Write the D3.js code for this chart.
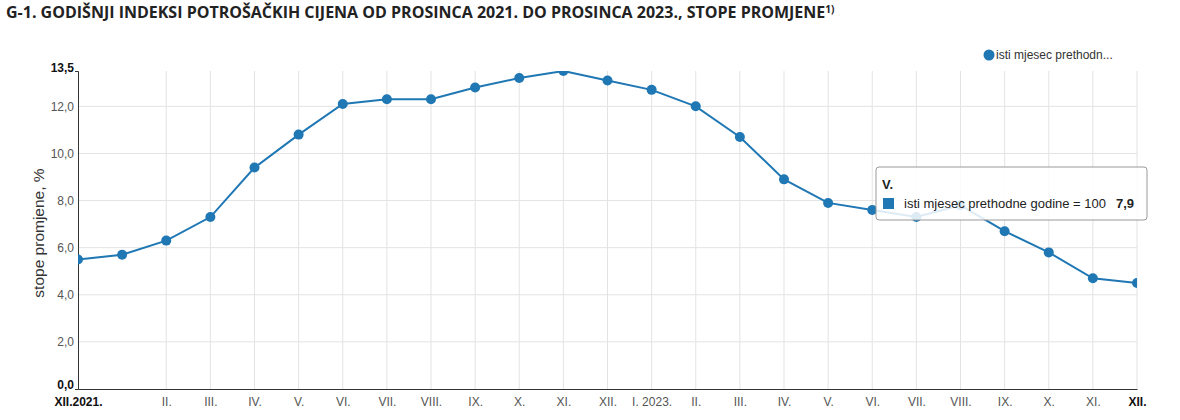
<!DOCTYPE html>
<html>
<head>
<meta charset="utf-8">
<script src="https://cdn.jsdelivr.net/npm/d3@7"></script>
<style>
  html, body { margin: 0; padding: 0; background: #fff; }
  svg { display: block; }
</style>
</head>
<body>
<svg id="chart" width="1180" height="420"></svg>
<script>
const categories = ["XII.2021.", "I. 2022.", "II.", "III.", "IV.", "V.", "VI.", "VII.", "VIII.", "IX.", "X.", "XI.", "XII.",
  "I. 2023.", "II.", "III.", "IV.", "V.", "VI.", "VII.", "VIII.", "IX.", "X.", "XI.", "XII."];
const values = [5.5, 5.7, 6.3, 7.3, 9.4, 10.8, 12.1, 12.3, 12.3, 12.8, 13.2, 13.5, 13.1,
  12.7, 12.0, 10.7, 8.9, 7.9, 7.6, 7.3, 7.8, 6.7, 5.8, 4.7, 4.5];
const yTicks = [0, 2, 4, 6, 8, 10, 12, 13.5];
const seriesName = "isti mjesec prethodne godine = 100";
const legendLabel = "isti mjesec prethodn...";
const titleText = "G-1. GODIŠNJI INDEKSI POTROŠAČKIH CIJENA OD PROSINCA 2021. DO PROSINCA 2023., STOPE PROMJENE";
const yTitle = "stope promjene, %";
const tooltipIndex = 17;

(function () {
const color = "#1f77b4";
const svg = d3.select("#chart");
const mL = 78, mR = 1137, mT = 71, mB = 389;

const x = d3.scalePoint().domain(d3.range(categories.length)).range([mL, mR]);
const y = d3.scaleLinear().domain([0, 13.5]).range([mB, mT]);
const fmt = v => d3.format(".1f")(v).replace(".", ",");

// title
const title = svg.append("text").attr("x", 6).attr("y", 18)
  .style("font-family", "'Open Sans', sans-serif").style("font-weight", "700")
  .style("font-size", "16px").attr("fill", "#222").text(titleText);
title.append("tspan").attr("dy", -5).style("font-size", "10px").text("1)");

// grid
const grid = svg.append("g");
grid.selectAll("line.h").data(yTicks.filter(t => t > 0 && t < 13.5)).join("line")
  .attr("class", "h")
  .attr("x1", mL).attr("x2", mR).attr("y1", d => y(d)).attr("y2", d => y(d))
  .attr("stroke", "#e3e3e3").attr("stroke-width", 1);
grid.selectAll("line.v").data(d3.range(categories.length).filter(i => i > 1)).join("line")
  .attr("class", "v")
  .attr("x1", d => x(d)).attr("x2", d => x(d)).attr("y1", mT).attr("y2", mB)
  .attr("stroke", "#e3e3e3").attr("stroke-width", 1);

// y axis
const yAxis = d3.axisLeft(y).tickValues(yTicks).tickFormat(fmt).tickSize(3);
const gy = svg.append("g").attr("transform", `translate(${mL},0)`).call(yAxis);
gy.select(".domain").attr("stroke", "#333");
gy.selectAll(".tick line").attr("stroke", "#333").attr("stroke-width", d => (d === 0 || d === 13.5) ? 1 : 0);
gy.selectAll(".tick text").attr("x", -4)
  .style("font-family", "Arial, 'Liberation Sans', sans-serif").style("font-size", "12px")
  .attr("fill", d => (d === 0 || d === 13.5) ? "#111" : "#555")
  .style("font-weight", d => (d === 0 || d === 13.5) ? "700" : "400")
  .attr("dy", d => d === 0 ? "-0.05em" : d === 13.5 ? "0.05em" : "0.32em");

// x axis
const xAxis = d3.axisBottom(x).tickFormat(i => i === 1 ? "" : categories[i]).tickSize(0);
const gx = svg.append("g").attr("transform", `translate(0,${mB})`).call(xAxis);
gx.select(".domain").attr("stroke", "#333");
gx.selectAll(".tick text").attr("y", 8)
  .style("font-family", "Arial, 'Liberation Sans', sans-serif").style("font-size", "12px")
  .attr("fill", i => (i === 0 || i === categories.length - 1) ? "#111" : "#555")
  .style("font-weight", i => (i === 0 || i === categories.length - 1) ? "700" : "400");

// y title
svg.append("text").attr("transform", `translate(44,${(mT + mB) / 2 + 3}) rotate(-90)`)
  .attr("text-anchor", "middle")
  .style("font-family", "Arial, 'Liberation Sans', sans-serif").style("font-size", "15.5px")
  .attr("fill", "#333").text(yTitle);

// clip
svg.append("clipPath").attr("id", "plot").append("rect")
  .attr("x", mL).attr("y", mT).attr("width", mR - mL).attr("height", mB - mT);

const plot = svg.append("g").attr("clip-path", "url(#plot)");
const data = values.map((v, i) => ({ i, v }));
plot.append("path").datum(data)
  .attr("d", d3.line().x(d => x(d.i)).y(d => y(d.v)))
  .attr("fill", "none").attr("stroke", color).attr("stroke-width", 2);
plot.selectAll("circle").data(data).join("circle")
  .attr("cx", d => x(d.i)).attr("cy", d => y(d.v)).attr("r", 5).attr("fill", color);

// legend
svg.append("circle").attr("cx", 989).attr("cy", 55).attr("r", 5.5).attr("fill", color);
svg.append("text").attr("x", 996).attr("y", 59)
  .style("font-family", "Arial, 'Liberation Sans', sans-serif").style("font-size", "12px")
  .attr("fill", "#333").text(legendLabel);

// tooltip
const tt = svg.append("g").attr("transform", "translate(876,167)");
tt.append("rect").attr("width", 271).attr("height", 53).attr("rx", 3)
  .attr("fill", "#fff").attr("fill-opacity", 0.85).attr("stroke", "#999");
tt.append("text").attr("x", 6).attr("y", 22)
  .style("font-family", "Arial, 'Liberation Sans', sans-serif").style("font-size", "13px")
  .style("font-weight", "700").attr("fill", "#222").text(categories[tooltipIndex]);
tt.append("rect").attr("x", 7).attr("y", 31).attr("width", 11).attr("height", 11).attr("fill", color);
tt.append("text").attr("x", 28).attr("y", 41)
  .style("font-family", "Arial, 'Liberation Sans', sans-serif").style("font-size", "13px")
  .attr("fill", "#222").text(seriesName);
tt.append("text").attr("x", 240).attr("y", 41)
  .style("font-family", "Arial, 'Liberation Sans', sans-serif").style("font-size", "13px")
  .style("font-weight", "700").attr("fill", "#222").text(fmt(values[tooltipIndex]));
})();
</script>
</body>
</html>
